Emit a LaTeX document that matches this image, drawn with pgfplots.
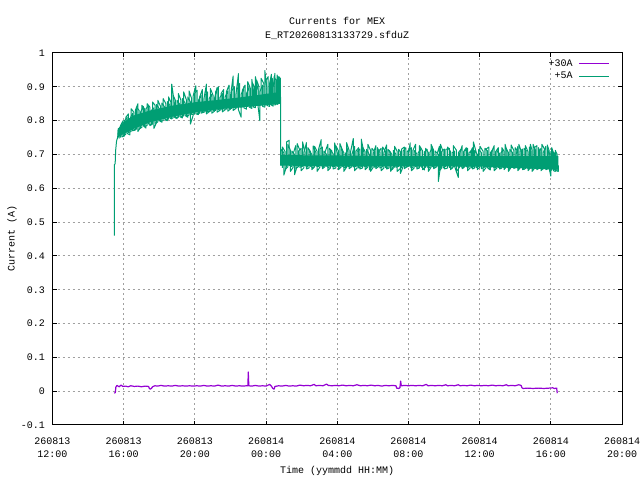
\documentclass[border=0pt]{standalone}
\usepackage{pgfplots}
\pgfplotsset{compat=1.18}
\usepackage{fontspec}
\setmainfont{Liberation Mono}
\definecolor{cA}{HTML}{9400D3}
\definecolor{cB}{HTML}{009E73}
\definecolor{gridgray}{HTML}{A0A0A0}
\begin{document}
\begin{tikzpicture}[x=1bp,y=1bp]
\useasboundingbox (0,0) rectangle (640,480);
\begin{axis}[
  at={(52.5bp,55bp)}, anchor=south west,
  width=569.5bp, height=372bp, scale only axis,
  xmin=0, xmax=32, ymin=-0.1, ymax=1,
  xtick={0,4,8,12,16,20,24,28,32},
  xticklabels={{260813\\12:00},{260813\\16:00},{260813\\20:00},{260814\\00:00},{260814\\04:00},{260814\\08:00},{260814\\12:00},{260814\\16:00},{260814\\20:00}},
  ytick={-0.1,0,0.1,0.2,0.3,0.4,0.5,0.6,0.7,0.8,0.9,1},
  yticklabels={-0.1,0,0.1,0.2,0.3,0.4,0.5,0.6,0.7,0.8,0.9,1},
  font=\fontsize{10bp}{13bp}\selectfont,
  xticklabel style={align=center, inner sep=0pt, yshift=-12.5bp, font=\fontsize{10bp}{13bp}\selectfont},
  yticklabel style={inner sep=0pt, xshift=-7.5bp},
  tick align=inside, major tick length=4bp,
  tick style={black, line width=1bp},
  axis line style={black, line width=1bp},
  grid=major,
  major grid style={gridgray, line width=1bp, dash pattern=on 2bp off 3bp},
  xlabel={Time (yymmdd HH:MM)},
  ylabel={Current (A)},
  every axis x label/.style={at={(rel axis cs:0.5,0)}, anchor=center, yshift=-46bp},
  every axis y label/.style={at={(rel axis cs:0,0.5)}, xshift=-40.5bp, anchor=center, rotate=90},
  title={Currents for MEX\\E\_RT20260813133729.sfduZ},
  title style={at={(rel axis cs:0.5,1)}, anchor=center, align=center, yshift=18.5bp, font=\fontsize{10bp}{13.5bp}\selectfont},
  legend cell align=right,
  legend plot pos=right,
  legend image code/.code={\draw[#1] (0bp,0bp) -- (30bp,0bp);},
  legend style={at={(rel axis cs:1,1)}, anchor=north east, xshift=-12bp, yshift=-6bp,
    draw=none, fill=none, inner sep=0pt, column sep=6bp, row sep=3.7bp,
    nodes={inner sep=0pt, text height=7bp, text depth=2bp}, font=\fontsize{10bp}{12bp}\selectfont},
]
% solid core bands of the +5A series
\addplot[draw=none, fill=cB, forget plot] coordinates {
(3.66,0.772) (3.98,0.795) (4.54,0.815) (5.48,0.83) (6.79,0.845) (8.1,0.855) (9.6,0.863) (10.72,0.87) (11.85,0.878) (12.8,0.885)
(12.8,0.85) (11.85,0.845) (10.72,0.84) (9.6,0.835) (8.1,0.825) (6.79,0.812) (5.48,0.795) (4.54,0.775) (3.98,0.76) (3.66,0.75)
} -- cycle;
\addplot[draw=none, fill=cB, forget plot] coordinates {
(12.84,0.698) (16,0.697) (20,0.695) (24,0.695) (28.42,0.695)
(28.42,0.655) (24,0.664) (20,0.665) (16,0.665) (12.84,0.667)
} -- cycle;
% extra +5A samples (interleaved)
\addplot[cB, line width=1bp, line join=round, forget plot] coordinates {
(3.82,0.75)(3.82,0.785) (3.97,0.80)(3.97,0.755) (4.12,0.76)(4.12,0.81) (4.27,0.82)(4.27,0.765)
(4.42,0.768)(4.42,0.835) (4.57,0.825)(4.57,0.772) (4.72,0.775)(4.72,0.84) (4.87,0.83)(4.87,0.776)
(5.02,0.78)(5.02,0.845) (5.17,0.835)(5.17,0.782) (5.32,0.786)(5.32,0.85) (5.47,0.84)(5.47,0.785)
(5.62,0.79)(5.62,0.855) (5.77,0.845)(5.77,0.792) (5.92,0.796)(5.92,0.86) (6.07,0.842)(6.07,0.798)
(6.22,0.80)(6.22,0.865) (6.37,0.85)(6.37,0.80) (6.52,0.805)(6.52,0.87) (6.65,0.855)(6.65,0.806)
(6.78,0.808)(6.78,0.875) (6.92,0.858)(6.92,0.808) (7.07,0.81)(7.07,0.88) (7.22,0.86)(7.22,0.812)
(7.37,0.814)(7.37,0.885) (7.52,0.862)(7.52,0.815) (7.67,0.816)(7.67,0.888) (7.82,0.865)(7.82,0.818)
(7.97,0.82)(7.97,0.88) (8.12,0.89)(8.12,0.82) (8.27,0.822)(8.27,0.87) (8.42,0.892)(8.42,0.824)
(8.57,0.826)(8.57,0.875) (8.72,0.885)(8.72,0.826) (8.87,0.828)(8.87,0.895) (9.02,0.875)(9.02,0.83)
(9.17,0.83)(9.17,0.885) (9.32,0.9)(9.32,0.832) (9.47,0.832)(9.47,0.88) (9.62,0.892)(9.62,0.834)
(9.77,0.834)(9.77,0.885) (9.92,0.905)(9.92,0.836) (10.07,0.836)(10.07,0.888) (10.22,0.9)(10.22,0.838)
(10.37,0.838)(10.37,0.892) (10.52,0.91)(10.52,0.84) (10.67,0.84)(10.67,0.89) (10.82,0.905)(10.82,0.842)
(10.97,0.842)(10.97,0.915) (11.12,0.895)(11.12,0.842) (11.25,0.844)(11.25,0.91) (11.35,0.9)(11.35,0.844)
(11.47,0.845)(11.47,0.92) (11.60,0.9)(11.60,0.845) (11.72,0.846)(11.72,0.925) (11.87,0.91)(11.87,0.846)
(12.00,0.847)(12.00,0.92) (12.12,0.93)(12.12,0.848) (12.25,0.848)(12.25,0.915) (12.35,0.925)(12.35,0.849)
(12.45,0.85)(12.45,0.93) (12.55,0.92)(12.55,0.85) (12.62,0.852)(12.62,0.935) (12.69,0.92)(12.69,0.855)
(12.76,0.858)(12.76,0.925)
};
\addplot[cB, line width=1bp, line join=round, forget plot] coordinates {
(12.92,0.66)(12.92,0.722) (13.07,0.708)(13.07,0.655) (13.22,0.663)(13.22,0.73) (13.37,0.712)(13.37,0.65)
(13.52,0.662)(13.52,0.702) (13.67,0.726)(13.67,0.658) (13.82,0.664)(13.82,0.71) (13.97,0.718)(13.97,0.652)
(14.12,0.66)(14.12,0.705) (14.27,0.735)(14.27,0.657) (14.42,0.66)(14.42,0.712) (14.57,0.70)(14.57,0.655)
(14.72,0.663)(14.72,0.724) (14.87,0.709)(14.87,0.65) (15.02,0.662)(15.02,0.716) (15.17,0.722)(15.17,0.658)
(15.32,0.664)(15.32,0.708) (15.47,0.73)(15.47,0.652) (15.62,0.66)(15.62,0.712) (15.77,0.702)(15.77,0.657)
(15.92,0.66)(15.92,0.726) (16.07,0.71)(16.07,0.655) (16.22,0.663)(16.22,0.718) (16.37,0.705)(16.37,0.65)
(16.52,0.662)(16.52,0.735) (16.67,0.712)(16.67,0.658) (16.82,0.664)(16.82,0.70) (16.97,0.724)(16.97,0.652)
(17.12,0.66)(17.12,0.709) (17.27,0.716)(17.27,0.657) (17.42,0.66)(17.42,0.722) (17.57,0.708)(17.57,0.655)
(17.72,0.663)(17.72,0.73) (17.87,0.712)(17.87,0.65) (18.02,0.662)(18.02,0.702) (18.17,0.726)(18.17,0.658)
(18.32,0.664)(18.32,0.71) (18.47,0.718)(18.47,0.652) (18.62,0.66)(18.62,0.705) (18.77,0.728)(18.77,0.657)
(18.92,0.66)(18.92,0.712) (19.07,0.70)(19.07,0.655) (19.22,0.663)(19.22,0.724) (19.37,0.709)(19.37,0.65)
(19.62,0.662)(19.62,0.716) (19.77,0.722)(19.77,0.658) (19.92,0.664)(19.92,0.708) (20.17,0.72)(20.17,0.652)
(20.32,0.66)(20.32,0.712) (20.47,0.702)(20.47,0.657) (20.62,0.66)(20.62,0.726) (20.80,0.71)(20.80,0.655)
(20.97,0.663)(20.97,0.718) (21.12,0.705)(21.12,0.65) (21.27,0.662)(21.27,0.73) (21.42,0.712)(21.42,0.658)
(21.60,0.664)(21.60,0.70) (21.74,0.724)(21.74,0.652) (21.87,0.66)(21.87,0.709) (22.02,0.716)(22.02,0.657)
(22.20,0.66)(22.20,0.722) (22.37,0.708)(22.37,0.655) (22.52,0.663)(22.52,0.726) (22.70,0.712)(22.70,0.65)
(22.87,0.662)(22.87,0.702) (23.02,0.726)(23.02,0.658) (23.17,0.664)(23.17,0.71) (23.32,0.718)(23.32,0.652)
(23.47,0.66)(23.47,0.705) (23.60,0.72)(23.60,0.657) (23.72,0.66)(23.72,0.712) (23.87,0.70)(23.87,0.655)
(24.02,0.663)(24.02,0.724) (24.20,0.709)(24.20,0.65) (24.37,0.662)(24.37,0.716) (24.52,0.722)(24.52,0.658)
(24.67,0.664)(24.67,0.708) (24.82,0.726)(24.82,0.652) (24.97,0.66)(24.97,0.712) (25.12,0.702)(25.12,0.657)
(25.25,0.66)(25.25,0.72) (25.37,0.71)(25.37,0.655) (25.49,0.663)(25.49,0.718) (25.62,0.705)(25.62,0.65)
(25.77,0.662)(25.77,0.728) (25.92,0.712)(25.92,0.658) (26.05,0.664)(26.05,0.70) (26.15,0.724)(26.15,0.652)
(26.27,0.66)(26.27,0.709) (26.42,0.716)(26.42,0.655) (26.57,0.658)(26.57,0.726) (26.72,0.708)(26.72,0.652)
(26.85,0.66)(26.85,0.73) (26.95,0.712)(26.95,0.65) (27.07,0.658)(27.07,0.72) (27.22,0.726)(27.22,0.655)
(27.35,0.66)(27.35,0.71) (27.45,0.718)(27.45,0.652) (27.57,0.658)(27.57,0.705) (27.72,0.724)(27.72,0.655)
(27.85,0.658)(27.85,0.712) (27.95,0.70)(27.95,0.65) (28.05,0.655)(28.05,0.72) (28.15,0.705)(28.15,0.652)
(28.25,0.65)(28.25,0.712) (28.36,0.70)(28.36,0.65)
};
% +30A
\addplot[cA, line width=1.2bp, line join=round] coordinates {
(3.47,-0.006) (3.53,-0.004) (3.56,0.012) (3.62,0.017) (3.75,0.013) (3.85,0.018) (3.95,0.014) (4.1,0.015) (4.25,0.013) (4.4,0.016)
(4.6,0.014) (4.8,0.015) (5.0,0.013) (5.2,0.015) (5.4,0.014) (5.44,0.008) (5.5,0.006) (5.57,0.009) (5.62,0.013) (5.75,0.016)
(5.9,0.015) (6.1,0.017) (6.3,0.015) (6.5,0.016) (6.7,0.015) (6.9,0.017) (7.1,0.015) (7.3,0.016) (7.5,0.015) (7.7,0.016)
(7.9,0.015) (8.1,0.016) (8.3,0.015) (8.5,0.017) (8.7,0.015) (8.9,0.016) (9.1,0.015) (9.3,0.018) (9.5,0.015) (9.7,0.016)
(9.9,0.015) (10.1,0.017) (10.3,0.015) (10.5,0.016) (10.7,0.015) (10.9,0.016) (10.98,0.016) (11.0,0.057) (11.03,0.016) (11.2,0.015)
(11.4,0.017) (11.6,0.015) (11.8,0.016) (12.0,0.015) (12.2,0.020) (12.3,0.015) (12.38,0.008) (12.45,0.006) (12.5,0.014) (12.7,0.016)
(12.9,0.015) (13.1,0.017) (13.3,0.015) (13.5,0.016) (13.7,0.015) (13.9,0.018) (14.1,0.016) (14.3,0.017) (14.5,0.016) (14.7,0.020)
(14.8,0.016) (15.0,0.017) (15.2,0.016) (15.4,0.021) (15.5,0.017) (15.7,0.016) (15.9,0.017) (16.1,0.016) (16.3,0.018) (16.5,0.016)
(16.7,0.017) (16.9,0.016) (17.1,0.019) (17.3,0.016) (17.5,0.017) (17.7,0.016) (17.9,0.018) (18.1,0.016) (18.3,0.017) (18.5,0.015)
(18.7,0.017) (18.9,0.016) (19.1,0.017) (19.3,0.016) (19.34,0.009) (19.45,0.008) (19.52,0.010) (19.56,0.030) (19.6,0.016) (19.8,0.017)
(20.0,0.016) (20.2,0.017) (20.4,0.016) (20.6,0.017) (20.8,0.016) (21.0,0.020) (21.1,0.016) (21.3,0.017) (21.5,0.016) (21.7,0.017)
(21.9,0.016) (22.1,0.019) (22.2,0.016) (22.4,0.017) (22.6,0.016) (22.8,0.019) (22.9,0.016) (23.1,0.017) (23.3,0.016) (23.5,0.018)
(23.7,0.016) (23.9,0.017) (24.1,0.016) (24.3,0.017) (24.5,0.016) (24.7,0.018) (24.9,0.016) (25.1,0.017) (25.3,0.016) (25.5,0.019)
(25.6,0.016) (25.8,0.017) (26.0,0.016) (26.2,0.019) (26.33,0.017) (26.38,0.010) (26.45,0.008) (26.7,0.009) (27.0,0.008) (27.3,0.009)
(27.6,0.008) (27.9,0.009) (28.1,0.010) (28.2,0.008) (28.33,0.009) (28.36,-0.006)
};
\addlegendentry{+30A}
% +5A
\addplot[cB, line width=1bp, line join=round] coordinates {
(3.47,0.46) (3.475,0.67) (3.52,0.672) (3.55,0.713) (3.6,0.74) (3.66,0.75) (3.7,0.777)
(3.75,0.748)(3.75,0.777) (3.90,0.79)(3.90,0.752) (4.05,0.755)(4.05,0.80) (4.20,0.81)(4.20,0.762)
(4.35,0.758)(4.35,0.805) (4.50,0.822)(4.50,0.77) (4.65,0.772)(4.65,0.83) (4.80,0.85)(4.80,0.768)
(4.95,0.78)(4.95,0.825) (5.10,0.842)(5.10,0.785) (5.25,0.778)(5.25,0.835) (5.40,0.845)(5.40,0.79)
(5.55,0.788)(5.55,0.83) (5.70,0.838)(5.70,0.777) (5.85,0.795)(5.85,0.848) (6.00,0.835)(6.00,0.80)
(6.15,0.795)(6.15,0.852) (6.30,0.84)(6.30,0.805) (6.45,0.80)(6.45,0.856) (6.60,0.845)(6.60,0.808)
(6.70,0.805)(6.70,0.908) (6.85,0.85)(6.85,0.81) (7.00,0.806)(7.00,0.86) (7.15,0.848)(7.15,0.812)
(7.30,0.808)(7.30,0.865) (7.45,0.852)(7.45,0.815) (7.60,0.81)(7.60,0.87) (7.75,0.855)(7.75,0.79)
(7.90,0.815)(7.90,0.872) (8.05,0.903)(8.05,0.82) (8.20,0.818)(8.20,0.86) (8.35,0.875)(8.35,0.822)
(8.50,0.825)(8.50,0.862) (8.65,0.908)(8.65,0.82) (8.80,0.826)(8.80,0.865) (8.95,0.878)(8.95,0.822)
(9.10,0.828)(9.10,0.865) (9.25,0.898)(9.25,0.825) (9.40,0.83)(9.40,0.868) (9.55,0.88)(9.55,0.826)
(9.70,0.832)(9.70,0.87) (9.85,0.888)(9.85,0.828) (10.00,0.834)(10.00,0.872) (10.15,0.932)(10.15,0.83)
(10.30,0.836)(10.30,0.875) (10.45,0.939)(10.45,0.832) (10.60,0.81)(10.60,0.878) (10.75,0.895)(10.75,0.838)
(10.90,0.834)(10.90,0.88) (11.05,0.9)(11.05,0.84) (11.20,0.836)(11.20,0.922) (11.30,0.885)(11.30,0.84)
(11.40,0.838)(11.40,0.93) (11.55,0.89)(11.55,0.842) (11.65,0.80)(11.65,0.885) (11.80,0.905)(11.80,0.842)
(11.93,0.84)(11.93,0.948) (12.05,0.895)(12.05,0.845) (12.20,0.842)(12.20,0.91) (12.30,0.937)(12.30,0.846)
(12.40,0.843)(12.40,0.9) (12.50,0.94)(12.50,0.846) (12.60,0.85)(12.60,0.915) (12.65,0.93)(12.65,0.848)
(12.72,0.852)(12.72,0.93) (12.80,0.925)(12.80,0.86) (12.82,0.87)(12.82,0.668)
(12.85,0.668)(12.85,0.715) (13.00,0.705)(13.00,0.639) (13.15,0.665)(13.15,0.737) (13.30,0.742)(13.30,0.668)
(13.45,0.664)(13.45,0.71) (13.60,0.70)(13.60,0.64) (13.75,0.666)(13.75,0.732) (13.90,0.712)(13.90,0.662)
(14.05,0.665)(14.05,0.737) (14.20,0.705)(14.20,0.667) (14.35,0.662)(14.35,0.72) (14.50,0.708)(14.50,0.665)
(14.65,0.66)(14.65,0.725) (14.80,0.705)(14.80,0.666) (14.95,0.664)(14.95,0.715) (15.10,0.744)(15.10,0.667)
(15.25,0.663)(15.25,0.71) (15.40,0.70)(15.40,0.666) (15.55,0.659)(15.55,0.718) (15.70,0.71)(15.70,0.665)
(15.85,0.663)(15.85,0.734) (16.00,0.705)(16.00,0.666) (16.15,0.662)(16.15,0.732) (16.30,0.712)(16.30,0.665)
(16.45,0.66)(16.45,0.70) (16.60,0.718)(16.60,0.664) (16.75,0.666)(16.75,0.708) (16.90,0.747)(16.90,0.663)
(17.05,0.665)(17.05,0.71) (17.20,0.72)(17.20,0.66) (17.35,0.664)(17.35,0.745) (17.50,0.705)(17.50,0.666)
(17.65,0.662)(17.65,0.715) (17.80,0.70)(17.80,0.654) (17.95,0.665)(17.95,0.718) (18.10,0.708)(18.10,0.662)
(18.25,0.666)(18.25,0.72) (18.40,0.705)(18.40,0.66) (18.55,0.664)(18.55,0.722) (18.70,0.71)(18.70,0.662)
(18.85,0.658)(18.85,0.715) (19.00,0.705)(19.00,0.65) (19.15,0.664)(19.15,0.712) (19.30,0.70)(19.30,0.662)
(19.45,0.665)(19.45,0.715) (19.55,0.708)(19.55,0.644) (19.70,0.664)(19.70,0.71) (19.85,0.72)(19.85,0.662)
(20.00,0.665)(20.00,0.705) (20.10,0.734)(20.10,0.663) (20.25,0.66)(20.25,0.712) (20.40,0.73)(20.40,0.664)
(20.55,0.662)(20.55,0.705) (20.70,0.718)(20.70,0.665) (20.90,0.654)(20.90,0.708) (21.05,0.715)(21.05,0.663)
(21.20,0.66)(21.20,0.705) (21.35,0.722)(21.35,0.664) (21.50,0.662)(21.50,0.71) (21.68,0.70)(21.68,0.62)
(21.80,0.664)(21.80,0.73) (21.95,0.708)(21.95,0.66) (22.10,0.665)(22.10,0.715) (22.30,0.718)(22.30,0.662)
(22.45,0.658)(22.45,0.705) (22.60,0.71)(22.60,0.664) (22.80,0.632)(22.80,0.705) (22.95,0.715)(22.95,0.664)
(23.10,0.66)(23.10,0.708) (23.25,0.72)(23.25,0.664) (23.40,0.662)(23.40,0.705) (23.55,0.712)(23.55,0.66)
(23.65,0.664)(23.65,0.737) (23.80,0.708)(23.80,0.661) (23.95,0.664)(23.95,0.715) (24.10,0.705)(24.10,0.658)
(24.30,0.663)(24.30,0.718) (24.45,0.71)(24.45,0.66) (24.60,0.654)(24.60,0.705) (24.75,0.715)(24.75,0.663)
(24.90,0.66)(24.90,0.708) (25.05,0.72)(25.05,0.662) (25.20,0.658)(25.20,0.705) (25.30,0.712)(25.30,0.663)
(25.43,0.66)(25.43,0.73) (25.55,0.708)(25.55,0.662) (25.70,0.658)(25.70,0.715) (25.85,0.705)(25.85,0.662)
(26.00,0.66)(26.00,0.72) (26.10,0.712)(26.10,0.662) (26.20,0.658)(26.20,0.73) (26.35,0.708)(26.35,0.662)
(26.50,0.656)(26.50,0.718) (26.65,0.71)(26.65,0.66) (26.80,0.658)(26.80,0.722) (26.90,0.708)(26.90,0.662)
(27.00,0.656)(27.00,0.73) (27.15,0.712)(27.15,0.66) (27.30,0.658)(27.30,0.72) (27.40,0.708)(27.40,0.662)
(27.50,0.656)(27.50,0.73) (27.65,0.715)(27.65,0.66) (27.80,0.658)(27.80,0.728) (27.90,0.712)(27.90,0.662)
(28.00,0.636)(28.00,0.708) (28.10,0.71)(28.10,0.658) (28.20,0.655)(28.20,0.705) (28.30,0.70)(28.30,0.652)
(28.42,0.65)(28.42,0.668)
};
\addlegendentry{+5A}
\end{axis}
\end{tikzpicture}
\end{document}
